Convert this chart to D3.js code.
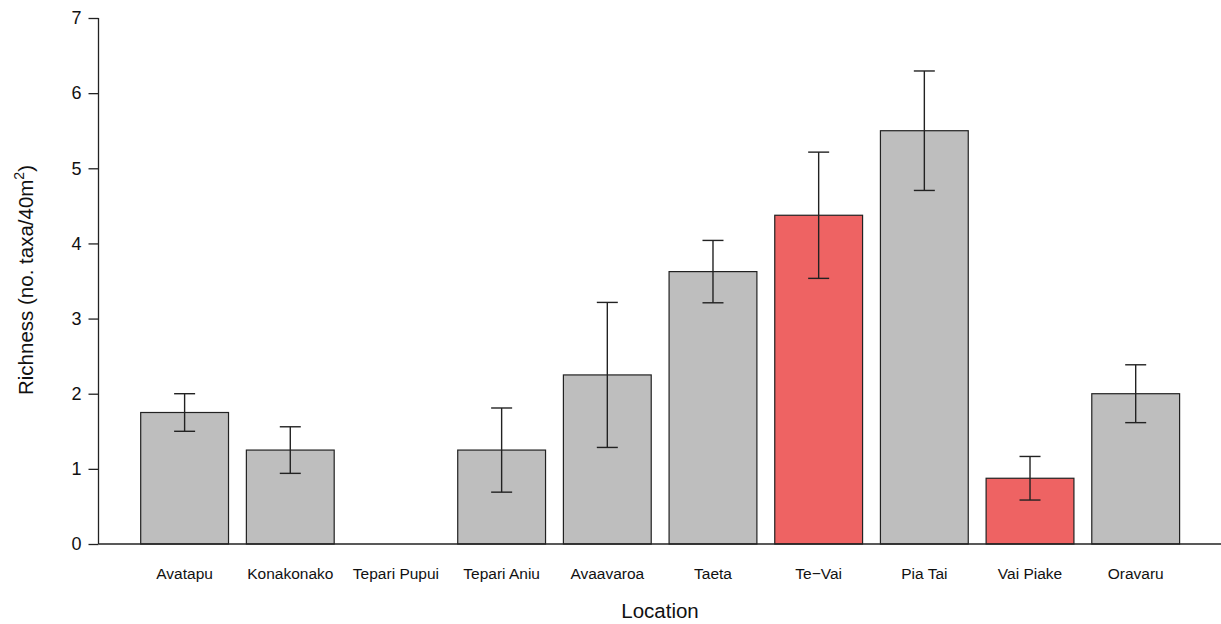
<!DOCTYPE html>
<html>
<head>
<meta charset="utf-8">
<script src="https://cdn.jsdelivr.net/npm/d3@7"></script>
<style>
  html, body { margin: 0; padding: 0; background: #fff; }
  svg { display: block; font-family: "Liberation Sans", Arial, sans-serif; }
</style>
</head>
<body>
<svg id="chart" width="1221" height="624"></svg>
<script>
// Mean taxa richness per location with standard errors
const locations = ["Avatapu", "Konakonako", "Tepari Pupui", "Tepari Aniu", "Avaavaroa",
                   "Taeta", "Te\u2212Vai", "Pia Tai", "Vai Piake", "Oravaru"];
const richness = [1.75, 1.25, 0, 1.25, 2.25, 3.625, 4.375, 5.5, 0.875, 2.0];
const stdErr   = [0.25, 0.31, 0, 0.56, 0.965, 0.415, 0.84, 0.795, 0.29, 0.385];
const highlighted = [false, false, false, false, false, false, true, false, true, false];
const yTicks = [0, 1, 2, 3, 4, 5, 6, 7];

const svg = d3.select("#chart");
const axisX = 98.5, baseY = 544, topY = 18;

const x = d3.scaleBand()
  .domain(locations)
  .range([140.7, 1179.6])
  .paddingInner(0.169)
  .paddingOuter(0);

const y = d3.scaleLinear().domain([0, 7]).range([baseY, topY]);

const ink = "#222";

// bars
svg.append("g").selectAll("rect")
  .data(locations.filter((d, i) => richness[i] > 0))
  .join("rect")
  .attr("x", d => x(d))
  .attr("y", d => y(richness[locations.indexOf(d)]))
  .attr("width", x.bandwidth())
  .attr("height", d => baseY - y(richness[locations.indexOf(d)]))
  .attr("fill", d => highlighted[locations.indexOf(d)] ? "#EE6363" : "#BEBEBE")
  .attr("stroke", ink)
  .attr("stroke-width", 1.2);

// error bars
const capHalf = 10.5;
const err = svg.append("g").attr("stroke", ink).attr("stroke-width", 1.4).attr("fill", "none");
locations.forEach((loc, i) => {
  if (stdErr[i] <= 0) return;
  const cx = x(loc) + x.bandwidth() / 2;
  const hi = y(richness[i] + stdErr[i]);
  const lo = y(richness[i] - stdErr[i]);
  err.append("line").attr("x1", cx).attr("x2", cx).attr("y1", hi).attr("y2", lo);
  err.append("line").attr("x1", cx - capHalf).attr("x2", cx + capHalf).attr("y1", hi).attr("y2", hi);
  err.append("line").attr("x1", cx - capHalf).attr("x2", cx + capHalf).attr("y1", lo).attr("y2", lo);
});

// y axis
const yAxis = d3.axisLeft(y).tickValues(yTicks).tickFormat(d3.format("d")).tickSize(10).tickPadding(7);
const gy = svg.append("g").attr("transform", `translate(${axisX},0)`).call(yAxis);
gy.select(".domain").attr("stroke", ink).attr("stroke-width", 1.3).attr("d", `M0,${topY}V${baseY}`);
gy.selectAll(".tick line").attr("stroke", ink).attr("stroke-width", 1.3);
gy.selectAll(".tick text").attr("font-size", 18).attr("fill", "#111")
  .attr("font-family", "'Liberation Sans', Arial, sans-serif");

// x baseline
svg.append("line")
  .attr("x1", axisX).attr("x2", 1221).attr("y1", baseY).attr("y2", baseY)
  .attr("stroke", ink).attr("stroke-width", 1.3);

// x category labels
svg.append("g").selectAll("text")
  .data(locations)
  .join("text")
  .attr("x", d => x(d) + x.bandwidth() / 2)
  .attr("y", 579)
  .attr("text-anchor", "middle")
  .attr("font-size", 15.5).attr("fill", "#111")
  .text(d => d);

// axis titles
svg.append("text")
  .attr("x", 660).attr("y", 618)
  .attr("text-anchor", "middle")
  .attr("font-size", 20.5).attr("fill", "#111")
  .text("Location");

const yt = svg.append("text")
  .attr("transform", "translate(33,280) rotate(-90)")
  .attr("text-anchor", "middle")
  .attr("font-size", 20.5).attr("fill", "#111");
yt.append("tspan").text("Richness (no. taxa/40m");
yt.append("tspan").attr("font-size", 14).attr("dy", -9).text("2");
yt.append("tspan").attr("dy", 9).text(")");
</script>
</body>
</html>
